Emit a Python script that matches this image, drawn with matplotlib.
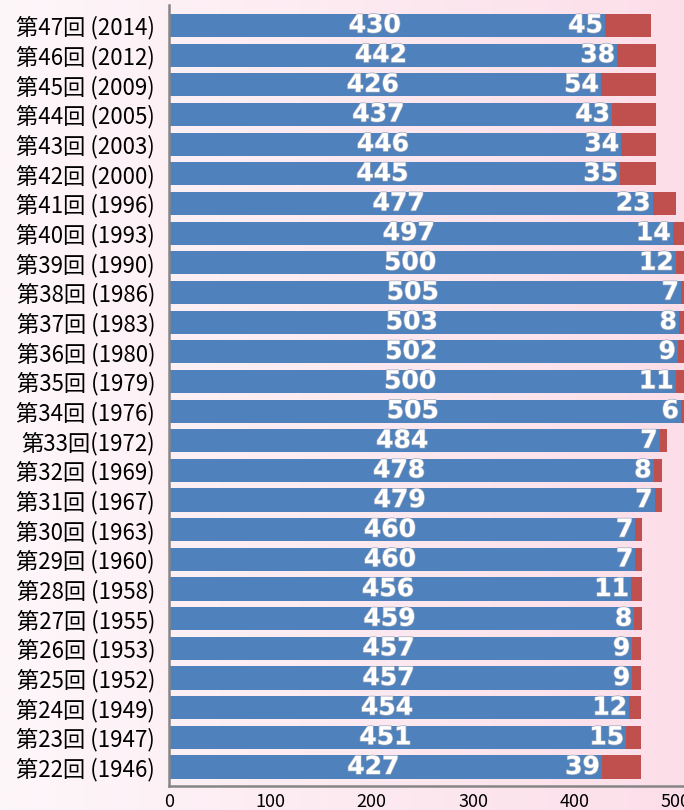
import numpy as np
import matplotlib
matplotlib.use('Agg')
from matplotlib import pyplot as plt
import matplotlib.patheffects as pe

plt.rcParams['font.family'] = ['Noto Sans CJK JP', 'DejaVu Sans']

# bottom (22nd) to top (47th)
labels = ['第22回 (1946)', '第23回 (1947)', '第24回 (1949)', '第25回 (1952)',
          '第26回 (1953)', '第27回 (1955)', '第28回 (1958)', '第29回 (1960)',
          '第30回 (1963)', '第31回 (1967)', '第32回 (1969)', '第33回(1972)',
          '第34回 (1976)', '第35回 (1979)', '第36回 (1980)', '第37回 (1983)',
          '第38回 (1986)', '第39回 (1990)', '第40回 (1993)', '第41回 (1996)',
          '第42回 (2000)', '第43回 (2003)', '第44回 (2005)', '第45回 (2009)',
          '第46回 (2012)', '第47回 (2014)']
blue_vals = [427, 451, 454, 457, 457, 459, 456, 460, 460, 479, 478, 484, 505,
             500, 502, 503, 505, 500, 497, 477, 445, 446, 437, 426, 442, 430]
red_vals = [39, 15, 12, 9, 9, 8, 11, 7, 7, 7, 8, 7, 6,
            11, 9, 8, 7, 12, 14, 23, 35, 34, 43, 54, 38, 45]

BLUE = '#4f81bd'
RED = '#c0504d'

fig = plt.figure(figsize=(6.84, 8.10), dpi=100)

# background gradient white -> pink
bg = fig.add_axes([0, 0, 1, 1], zorder=-10)
grad = np.linspace(0, 1, 256).reshape(1, -1)
c0 = np.array([254, 247, 250]) / 255
c1 = np.array([252, 222, 233]) / 255
img = c0[None, None, :] * (1 - grad[..., None]) + c1[None, None, :] * grad[..., None]
bg.imshow(img, aspect='auto', extent=[0, 1, 0, 1])
bg.axis('off')

W, H = 684, 810
ax = fig.add_axes([169 / W, 1 - 786 / H, (684 - 169) / W, (786 - 5) / H])
ax.patch.set_alpha(0)

y = np.arange(len(labels))
ax.barh(y, blue_vals, height=0.78, color=BLUE, zorder=2)
ax.barh(y, red_vals, left=blue_vals, height=0.78, color=RED, zorder=2)

stroke = [pe.withStroke(linewidth=1.0, foreground='#9aa8bc')]
for i in range(len(labels)):
    b = blue_vals[i]
    r = red_vals[i]
    ax.text(b / 2 - 12, y[i], str(b), ha='center', va='center', color='white',
            fontsize=18, fontweight='bold', family='DejaVu Sans',
            path_effects=stroke, zorder=3)
    ax.text(b - 2, y[i], str(r), ha='right', va='center', color='white',
            fontsize=18, fontweight='bold', family='DejaVu Sans',
            path_effects=stroke, zorder=3)

ax.set_xlim(0, 508)
ax.set_ylim(-0.64, 25.69)
ax.set_xticks([0, 100, 200, 300, 400, 500])
ax.set_yticks(y)
ax.set_yticklabels(labels, fontsize=16)
ax.tick_params(axis='y', length=0, pad=10)
ax.tick_params(axis='x', length=0, pad=5, labelsize=13)

for s in ['top', 'right']:
    ax.spines[s].set_visible(False)
for s in ['left', 'bottom']:
    ax.spines[s].set_color('#868686')
    ax.spines[s].set_linewidth(1.8)

fig.savefig('out.png', dpi=100)
